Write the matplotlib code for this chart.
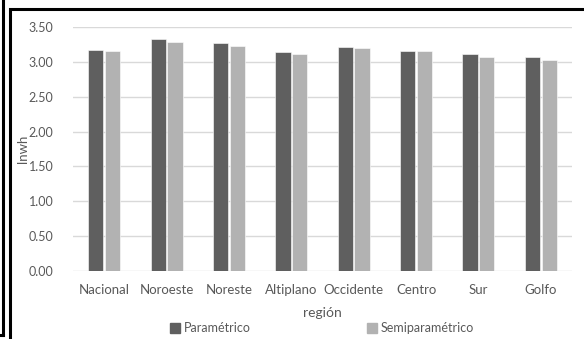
import matplotlib.pyplot as plt
import numpy as np
from matplotlib.lines import Line2D
from matplotlib.patches import Rectangle

plt.rcParams['font.family'] = ['Lato', 'DejaVu Sans']

regiones = ["Nacional", "Noroeste", "Noreste", "Altiplano", "Occidente",
            "Centro", "Sur", "Golfo"]
parametrico = [3.17, 3.33, 3.27, 3.14, 3.22, 3.16, 3.11, 3.07]
semiparametrico = [3.15, 3.29, 3.23, 3.11, 3.20, 3.15, 3.07, 3.02]
yticks = [0.0, 0.5, 1.0, 1.5, 2.0, 2.5, 3.0, 3.5]

DARK = "#5f5f5f"
LIGHT = "#b2b2b2"
TEXT = "#595959"

fig = plt.figure(figsize=(5.84, 3.39), dpi=100)
ax = fig.add_axes([73 / 584, 68 / 339, 499 / 584, 244 / 339])

x = np.arange(len(regiones))
w = 0.245
gap = 0.025
ax.bar(x - (w + gap) / 2, parametrico, w, color=DARK, edgecolor="white",
       linewidth=0.4, label="Paramétrico", zorder=3)
ax.bar(x + (w + gap) / 2, semiparametrico, w, color=LIGHT, edgecolor="white",
       linewidth=0.4, label="Semiparamétrico", zorder=3)

ax.set_xlim(-0.5, len(regiones) - 0.5)
ax.set_ylim(0, 3.5)
ax.set_yticks(yticks)
ax.set_yticklabels([f"{v:.2f}" for v in yticks])
ax.set_xticks(x)
ax.set_xticklabels(regiones)
ax.grid(axis="y", color="#d9d9d9", linewidth=1, zorder=0)
for s in ax.spines.values():
    s.set_visible(False)
ax.tick_params(length=0, labelsize=9.5, labelcolor=TEXT, pad=9)
ax.tick_params(axis="y", labelsize=9, pad=14)

ax.set_xlabel("región", fontsize=10, color=TEXT, labelpad=8)
ax.set_ylabel("lnwh", fontsize=9.5, color=TEXT)
ax.yaxis.set_label_coords(-44 / 499, 0.5)

handles = [Line2D([], [], marker="s", linestyle="none", markersize=6.5,
                  markerfacecolor=c, markeredgecolor=c) for c in (DARK, LIGHT)]
fig.legend(handles, ["Paramétrico", "Semiparamétrico"], loc="center",
           bbox_to_anchor=(322 / 584, 1 - 328 / 339), ncol=2, frameon=False,
           fontsize=9, labelcolor=TEXT, handletextpad=0.3,
           columnspacing=9.3, handlelength=0.8)

# surrounding frames
fig.add_artist(Rectangle((9.5 / 584, -0.05), 1.0, 1 - 9 / 339 + 0.05,
                         transform=fig.transFigure, fill=False,
                         edgecolor="black", linewidth=2.2))
fig.add_artist(Line2D([3 / 584, 3 / 584], [1.01, 1 - 335 / 339],
                      transform=fig.transFigure, color="black", linewidth=2.2))
fig.add_artist(Line2D([-0.01, 3 / 584], [1 - 335 / 339, 1 - 335 / 339],
                      transform=fig.transFigure, color="black", linewidth=2.2))

fig.savefig("out.png", dpi=100)
